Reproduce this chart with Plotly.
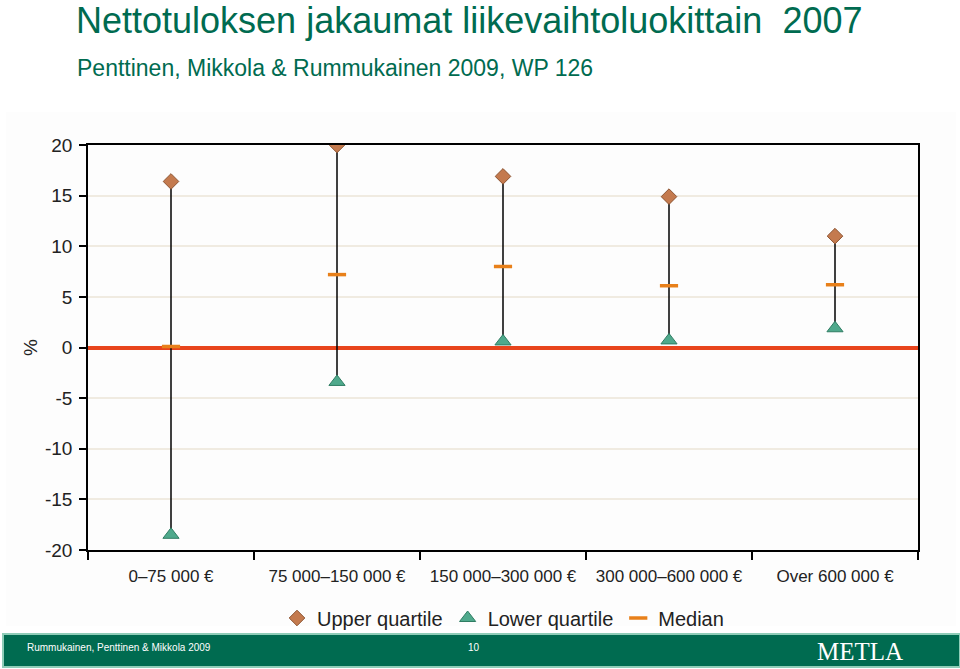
import plotly.graph_objects as go

# data
categories = ["0–75 000 €", "75 000–150 000 €", "150 000–300 000 €",
              "300 000–600 000 €", "Over 600 000 €"]
upper_quartile = [16.4, 20.0, 16.9, 14.9, 11.0]
lower_quartile = [-18.5, -3.4, 0.6, 0.7, 1.9]
median = [0.1, 7.2, 8.0, 6.1, 6.2]
y_ticks = [-20, -15, -10, -5, 0, 5, 10, 15, 20]

GREEN = "#006b50"
FONT = "Liberation Sans, Arial, sans-serif"

# pixel -> paper helpers (plot area is 88..918 x 145..550)
L, R, T, B = 88, 918, 145, 550
def px(x):
    return (x - L) / (R - L)
def py(y):
    return (B - y) / (B - T)

fig = go.Figure()

# vertical range lines from lower to upper quartile
xs, ys = [], []
for c, lo, hi in zip(categories, lower_quartile, upper_quartile):
    xs += [c, c, None]
    ys += [lo, hi, None]
fig.add_trace(go.Scatter(x=xs, y=ys, mode="lines", line=dict(color="black", width=1.5),
                         showlegend=False, hoverinfo="skip"))

fig.add_trace(go.Scatter(
    x=categories, y=upper_quartile, mode="markers", name="Upper quartile",
    marker=dict(symbol="diamond", size=12, color="#c47a4e",
                line=dict(color="#8d5533", width=1))))
fig.add_trace(go.Scatter(
    x=categories, y=lower_quartile, mode="markers", name="Lower quartile",
    marker=dict(symbol="triangle-up", size=14, color="#4fa98c",
                line=dict(color="#2f7d63", width=1))))
fig.add_trace(go.Scatter(
    x=categories, y=median, mode="markers", name="Median",
    marker=dict(symbol="line-ew", size=13, color="#e8801a",
                line=dict(color="#e8801a", width=3.5))))

fig.update_xaxes(
    type="category", tickson="boundaries", ticks="outside", ticklen=8,
    tickcolor="black", tickwidth=1.5, showgrid=False, ticklabelstandoff=10,
    showline=True, linecolor="black", linewidth=1.5, mirror=True,
    tickfont=dict(size=17, color="#222", family=FONT), range=[-0.5, 4.5],
)
fig.update_yaxes(
    range=[-20, 20], tickvals=y_ticks, ticktext=[str(v) for v in y_ticks],
    ticks="outside", ticklen=7, tickcolor="black", tickwidth=1.5, ticklabelstandoff=3,
    showgrid=True, gridcolor="#f0ebe1", gridwidth=1.5,
    zeroline=True, zerolinecolor="#e8441c", zerolinewidth=3.5,
    showline=True, linecolor="black", linewidth=1.5, mirror=True,
    tickfont=dict(size=19, color="#222", family=FONT),
    title=dict(text="%", font=dict(size=19, color="#222", family=FONT), standoff=2),
)

shapes = [
    # light chart backdrop
    dict(type="rect", xref="paper", yref="paper", x0=px(6), x1=px(956), y0=py(626), y1=py(112),
         fillcolor="#fdfdfd", line=dict(width=0), layer="below"),
    # footer band
    dict(type="rect", xref="paper", yref="paper", x0=px(3), x1=px(960), y0=py(667), y1=py(634),
         fillcolor=GREEN, line=dict(color="#8fcdb8", width=2), layer="below"),
]

annotations = [
    dict(text="Nettotuloksen jakaumat liikevaihtoluokittain  2007", x=px(74), y=py(21),
         xref="paper", yref="paper", xanchor="left", yanchor="middle", showarrow=False,
         font=dict(size=36, color=GREEN, family=FONT)),
    dict(text="Penttinen, Mikkola & Rummukainen 2009, WP 126", x=px(75), y=py(68),
         xref="paper", yref="paper", xanchor="left", yanchor="middle", showarrow=False,
         font=dict(size=23, color=GREEN, family=FONT)),
    dict(text="Rummukainen, Penttinen & Mikkola 2009", x=px(25), y=py(647),
         xref="paper", yref="paper", xanchor="left", yanchor="middle", showarrow=False,
         font=dict(size=10, color="white", family=FONT)),
    dict(text="10", x=px(474), y=py(647),
         xref="paper", yref="paper", xanchor="center", yanchor="middle", showarrow=False,
         font=dict(size=10, color="white", family=FONT)),
    dict(text="METLA", x=px(860), y=py(651),
         xref="paper", yref="paper", xanchor="center", yanchor="middle", showarrow=False,
         font=dict(size=25, color="white", family="Liberation Serif, Times New Roman, serif")),
]

fig.update_layout(
    width=960, height=669,
    margin=dict(l=L, r=960 - R, t=T, b=669 - B),
    paper_bgcolor="white", plot_bgcolor="white",
    shapes=shapes, annotations=annotations,
    legend=dict(orientation="h", x=0.5, xanchor="center", y=py(618), yanchor="middle",
                font=dict(size=20, color="#222", family=FONT), itemwidth=30,
                bgcolor="rgba(0,0,0,0)"),
    hovermode=False,
)

# drop the default body margin so the 960x669 figure sits flush in the window
fig.write_html("out.html", config={"displayModeBar": False},
               post_script="document.body.style.margin='0';")
